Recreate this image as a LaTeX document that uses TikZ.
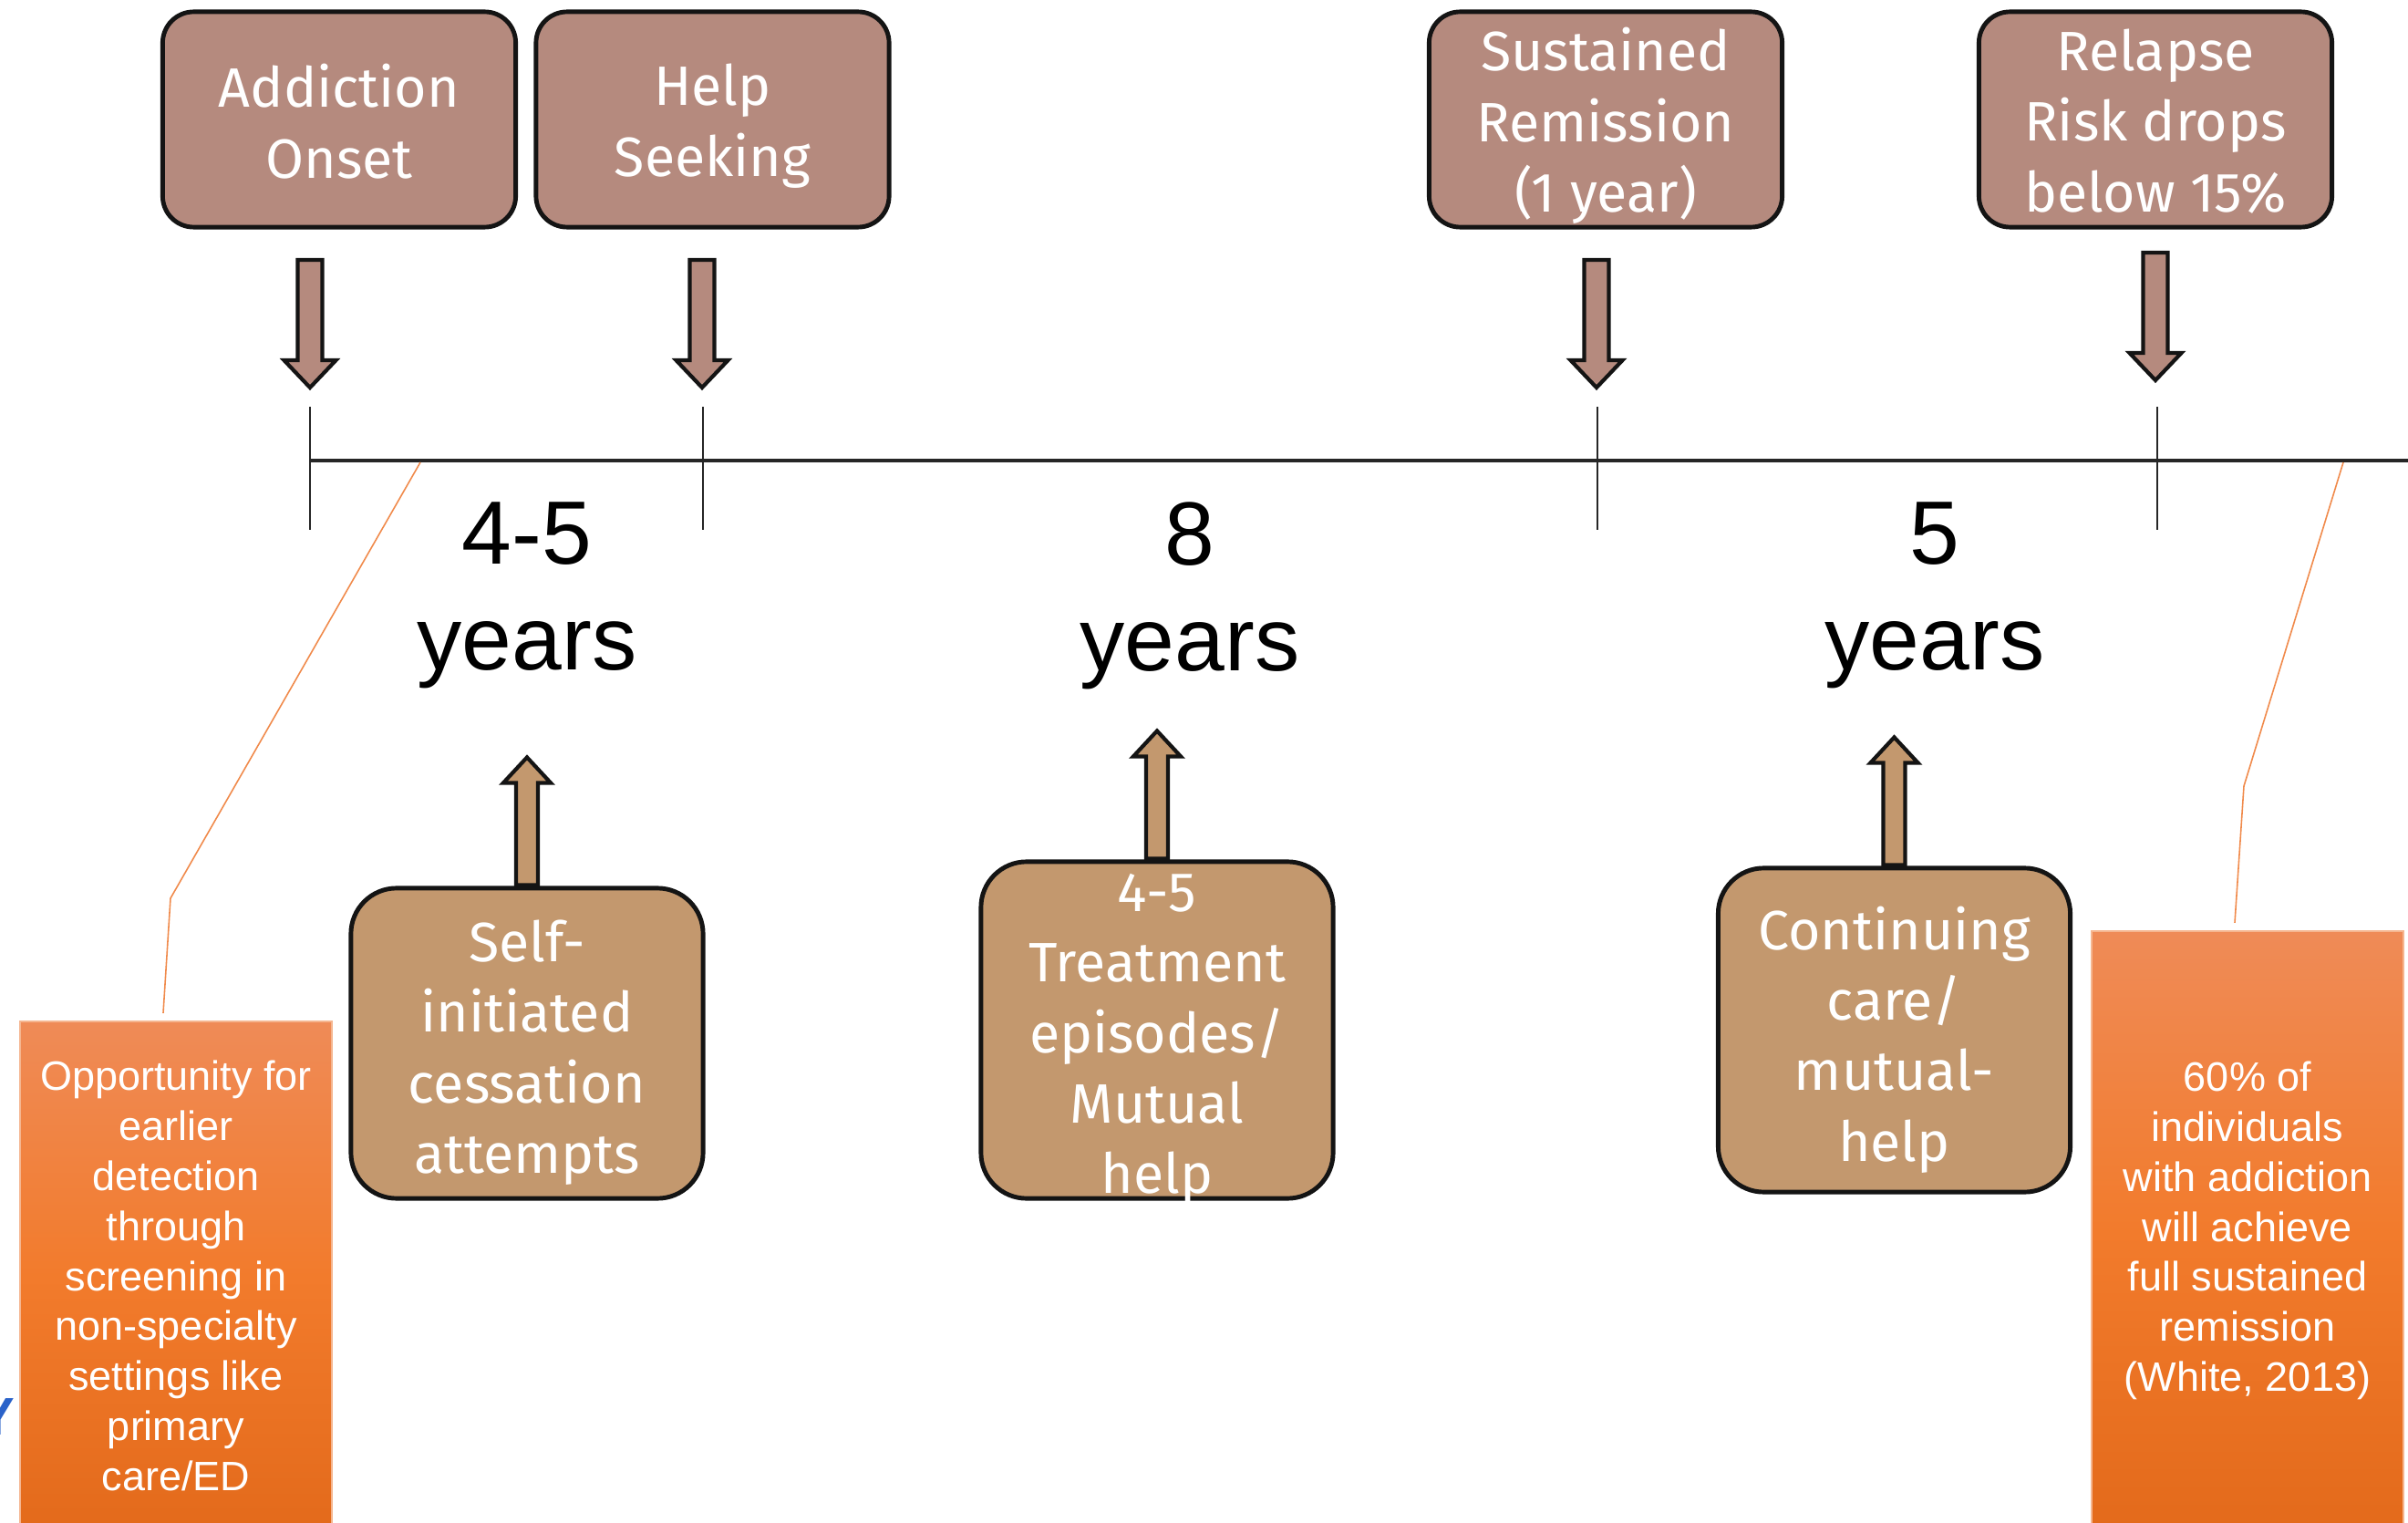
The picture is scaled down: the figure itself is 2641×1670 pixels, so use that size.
\documentclass[tikz,border=0pt]{standalone}
\usepackage{fontspec}
\setmainfont{Liberation Sans}
\newfontfamily\boxfont{Fira Sans}
\usetikzlibrary{calc}
\definecolor{topfill}{HTML}{B58A7E}
\definecolor{botfill}{HTML}{C3986E}
\definecolor{orgtop}{HTML}{EF8B57}
\definecolor{orgmid}{HTML}{F27B2C}
\definecolor{orgbot}{HTML}{E36A1B}
\definecolor{orgline}{HTML}{F5B690}
\definecolor{leadcol}{HTML}{F08A4B}
\definecolor{ycol}{HTML}{2A62C9}
\begin{document}
\begin{tikzpicture}[x=0.01cm,y=-0.01cm,
 topbox/.style={draw=black!92, line width=1.4pt, fill=topfill, rounded corners=0.34cm,
   minimum width=3.87cm, minimum height=2.36cm, inner sep=0pt},
 botbox/.style={draw=black!92, line width=1.4pt, fill=botfill, rounded corners=0.5cm,
   minimum width=3.86cm, inner sep=0pt},
 boxtext/.style={text=white, align=center, inner sep=0pt, font=\boxfont\fontsize{17.3}{22}\selectfont},
 yearlabel/.style={align=center, inner sep=0pt, font=\fontsize{28}{33}\selectfont},
 notebox/.style={top color=orgtop, bottom color=orgbot, middle color=orgmid, draw=orgline,
   line width=0.5pt, minimum width=3.42cm, inner sep=0pt, text=white, align=center,
   font=\fontsize{12.8}{15.6}\selectfont},
 blockarrow/.style={draw=black!92, line width=1.2pt, miter limit=10},
 tickline/.style={draw=black!85, line width=0.55pt},
 timeline/.style={draw=black!85, line width=0.9pt},
 leader/.style={draw=leadcol, line width=0.45pt},
 downarr/.pic={\path[blockarrow, fill=topfill] (-13.5,0) -- (13.5,0) -- (13.5,110) -- (28.5,110)
   -- (0,140) -- (-28.5,110) -- (-13.5,110) -- cycle;},
 uparr/.pic={\path[blockarrow, fill=botfill] (-12,0) -- (12,0) -- (12,-112) -- (26,-112)
   -- (0,-140) -- (-26,-112) -- (-12,-112) -- cycle;}
]
\useasboundingbox (0,0) rectangle (2641,1670);
\clip (0,0) rectangle (2641,1670);

% timeline
\coordinate (t1) at (340,505);
\coordinate (t2) at (771,505);
\coordinate (t3) at (1752,505);
\coordinate (t4) at (2366,505);
\coordinate (tend) at (2660,505);
\draw[timeline] (t1) -- (tend);
\foreach \t in {t1,t2,t3,t4}{
  \draw[tickline] ([yshift=0.59cm]\t) -- ([yshift=-0.76cm]\t);
}

% top boxes
\node[topbox] (onset) at (372,131) {};
\node[topbox] (help) at (781.5,131) {};
\node[topbox] (sust) at (1761,131) {};
\node[topbox] (relapse) at (2364,131) {};
\node[boxtext] (onsetT) at ([yshift=-0.02cm]onset.center) {Addiction\\Onset};
\node[boxtext] (helpT) at ([yshift=-0.07cm]help.center) {Help\\Seeking};
\node[boxtext] (sustT) at ([yshift=-0.07cm]sust.center) {Sustained\\Remission\\(1 year)};
\node[boxtext] (relapseT) at ([yshift=-0.02cm]relapse.center) {Relapse\\Risk drops\\below 15\%};

% down arrows
\pic at (340,285) {downarr};
\pic at (770,285) {downarr};
\pic at (1751,285) {downarr};
\pic at (2364,277) {downarr};

% year labels
\node[yearlabel] (y1) at (578,653) {4-5\\years};
\node[yearlabel] (y2) at (1305,653) {8\\years};
\node[yearlabel] (y3) at (2122,653) {5\\years};

% bottom boxes
\node[botbox, minimum height=3.40cm] (selfbox) at (578,1144) {};
\node[botbox, minimum height=3.69cm] (treatbox) at (1269,1129.5) {};
\node[botbox, minimum height=3.55cm] (contbox) at (2077.5,1129.5) {};
\node[boxtext] (selftext) at (578,1154) {Self-\\initiated\\cessation\\attempts};
\node[boxtext] (treattext) at (1269,1140) {4-5\\Treatment\\episodes/\\Mutual\\help};
\node[boxtext] (conttext) at (2077.5,1140) {Continuing\\care/\\mutual-\\help};

% up arrows
\pic at ([yshift=0.01cm]selfbox.north) {uparr};
\pic at ([yshift=0.01cm]treatbox.north) {uparr};
\pic at ([yshift=0.01cm]contbox.north) {uparr};

% orange notes
\node[notebox, minimum height=5.58cm] (leftnote) at (193,1399)
  {Opportunity for\\earlier\\detection\\through\\screening in\\non-specialty\\settings like\\primary\\care/ED};
\node[notebox, minimum height=6.57cm] (rightnote) at (2465,1349.5)
  {60\% of\\individuals\\with addiction\\will achieve\\full sustained\\remission\\(White, 2013)};

% leader lines
\coordinate (lbend) at (187,985);
\coordinate (lend) at (461,507);
\coordinate (rbend) at (2461,862);
\coordinate (rend) at (2570,507);
\draw[leader] ([xshift=-0.14cm,yshift=0.08cm]leftnote.north) -- (lbend) -- (lend);
\draw[leader] ([xshift=-0.14cm,yshift=0.08cm]rightnote.north) -- (rbend) -- (rend);

% stray letter at left edge (cut off in the reference)
\node[text=ycol, font=\bfseries\fontsize{16.5}{18}\selectfont, anchor=east, inner sep=0pt] (ylet) at (17,1554) {Y};
\end{tikzpicture}
\end{document}
